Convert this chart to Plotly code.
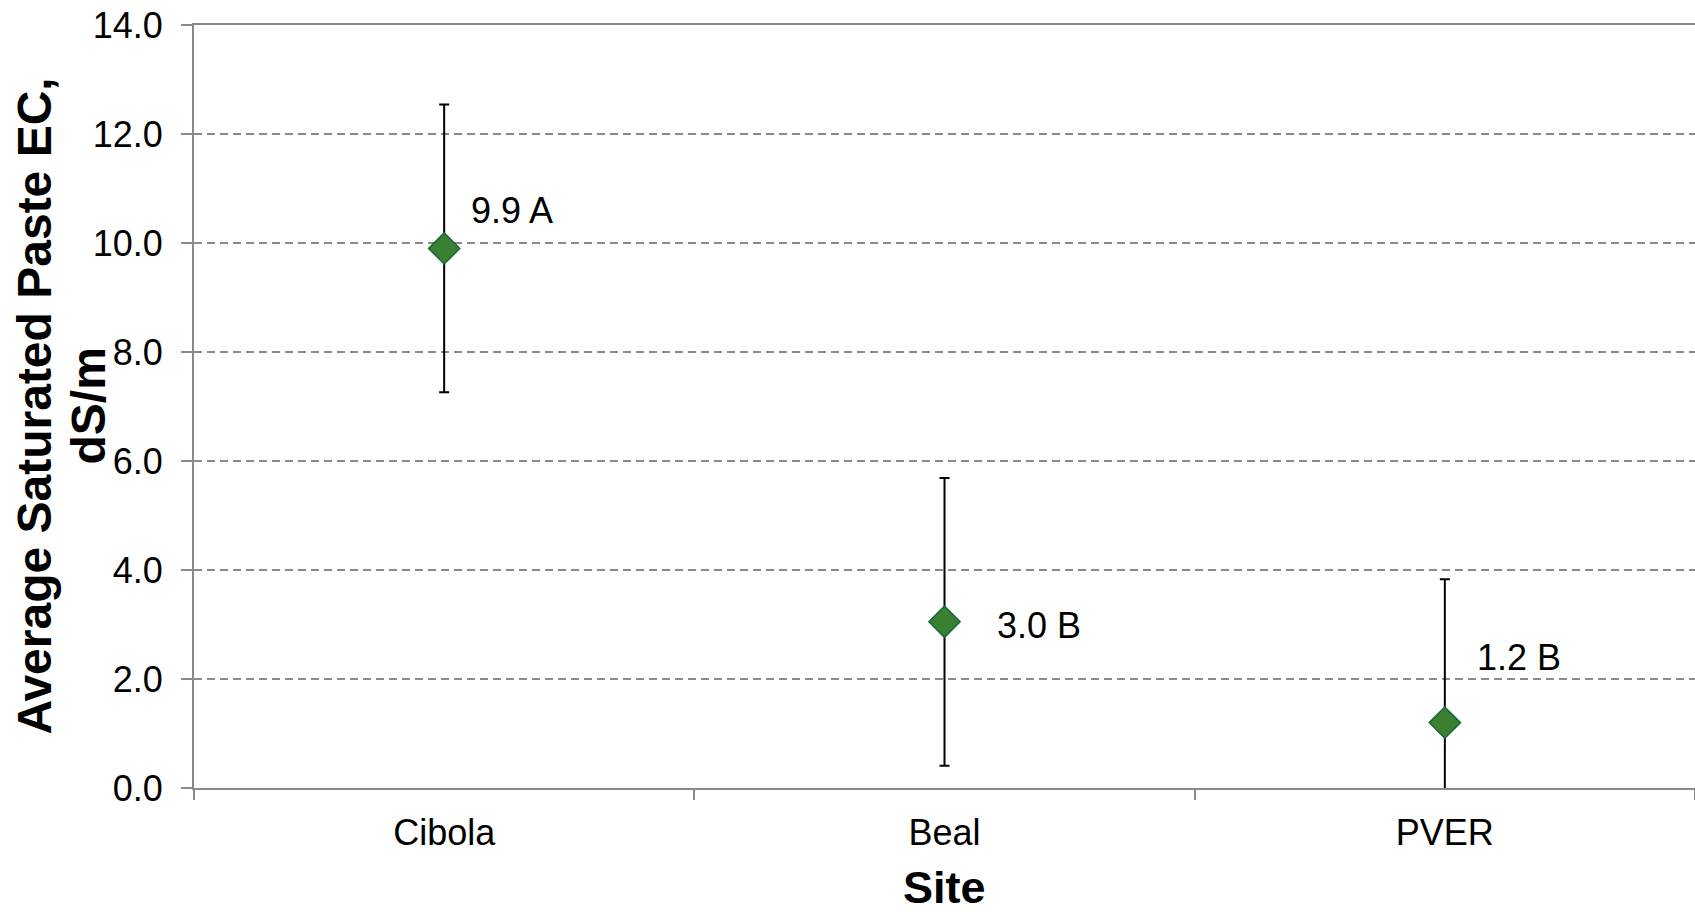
import plotly.graph_objects as go

sites = ["Cibola", "Beal", "PVER"]
means = [9.9, 3.05, 1.2]
errors = [2.64, 2.64, 2.63]
labels = ["9.9 A", "3.0 B", "1.2 B"]
label_dx = [68, 94, 74]      # pixel offsets of data labels
label_dy = [38, -4, 65]
y_ticks = [0, 2, 4, 6, 8, 10, 12, 14]

FONT = "Liberation Sans, Arial, sans-serif"
GRAY = "#8a8a8a"

fig = go.Figure()
fig.add_trace(go.Scatter(
    x=sites, y=means, mode="markers",
    marker=dict(symbol="diamond", size=24, color="#3b7f30",
                line=dict(color="#16683a", width=1.5)),
    error_y=dict(type="data", array=errors, visible=True,
                 color="black", thickness=2, width=5),
    showlegend=False, hoverinfo="skip",
))

for s, m, t, dx, dy in zip(sites, means, labels, label_dx, label_dy):
    fig.add_annotation(x=s, y=m, xref="x", yref="y", text=t, showarrow=False,
                       xanchor="center", yanchor="middle", xshift=dx, yshift=dy,
                       font=dict(family=FONT, size=36, color="black"))

fig.add_annotation(xref="paper", yref="paper", x=0, y=0.5, xshift=-160,
                   text="<b>Average Saturated Paste EC,</b>", textangle=-90,
                   showarrow=False, xanchor="center", yanchor="middle",
                   font=dict(family=FONT, size=48, color="black"))
fig.add_annotation(xref="paper", yref="paper", x=0, y=0.5, xshift=-106,
                   text="<b>dS/m</b>", textangle=-90,
                   showarrow=False, xanchor="center", yanchor="middle",
                   font=dict(family=FONT, size=48, color="black"))
fig.add_annotation(xref="paper", yref="paper", x=0.5, y=0, yshift=-99,
                   text="<b>Site</b>", showarrow=False,
                   xanchor="center", yanchor="middle",
                   font=dict(family=FONT, size=45, color="black"))

fig.update_layout(
    width=1695, height=912,
    margin=dict(l=194, r=0, t=25, b=124),
    paper_bgcolor="white", plot_bgcolor="white",
    font=dict(family=FONT, size=36, color="black"),
    xaxis=dict(
        type="category", range=[-0.5, 2.5],
        showline=True, linecolor=GRAY, linewidth=2, mirror=True,
        ticks="outside", tickson="boundaries", ticklen=10, tickwidth=1.5,
        tickcolor=GRAY, showgrid=False,
        tickfont=dict(family=FONT, size=36, color="black"),
        ticklabelstandoff=12,
    ),
    yaxis=dict(
        range=[0, 14], tickvals=y_ticks, tickformat=".1f",
        showline=True, linecolor=GRAY, linewidth=2,
        ticks="outside", ticklen=11, tickwidth=1.5, tickcolor=GRAY,
        showgrid=True, gridcolor=GRAY, gridwidth=1.5, griddash="8px,5px",
        zeroline=False,
        tickfont=dict(family=FONT, size=36, color="black"),
        ticklabelstandoff=11,
    ),
)

fig.write_html("out.html", config={"displayModeBar": False},
               post_script="document.body.style.margin='0';")
